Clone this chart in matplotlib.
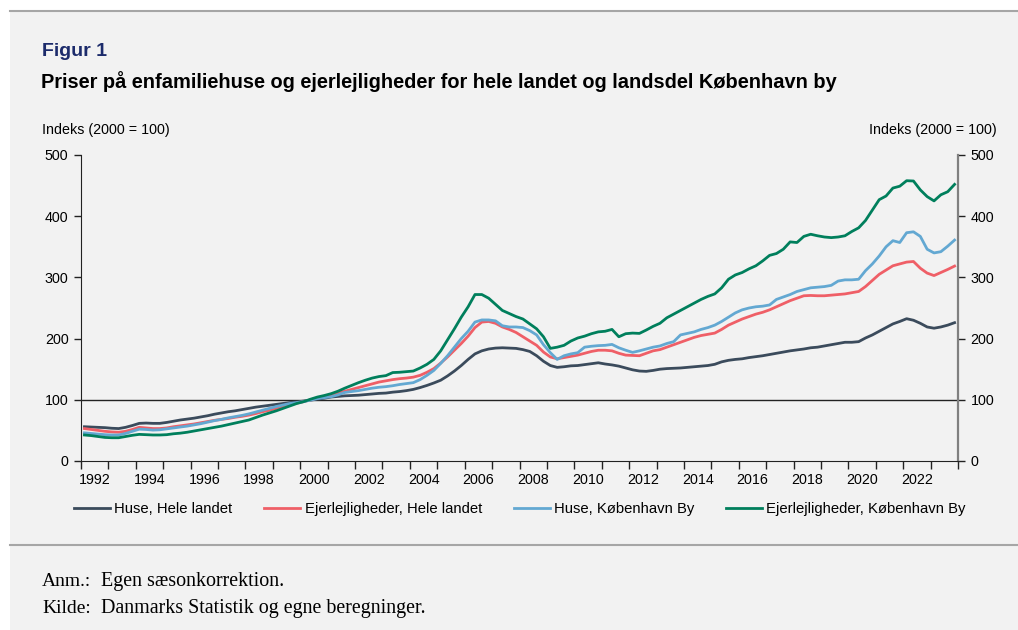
import numpy as np
import matplotlib.pyplot as plt
from matplotlib.patches import Rectangle
from matplotlib.lines import Line2D

# kvartalsdata 1992K1 - 2023K4, indeks 2000 = 100
years = list(range(1992, 2024))

huse_land = [56, 55.5, 55, 54.5, 53.5, 53, 55, 58, 61.5, 62, 61.5, 61.5,
             63, 65, 67, 68.5, 70, 72, 74, 76.5, 78.5, 80.5, 82, 84,
             86, 88, 89.5, 91, 92.5, 94, 95.5, 96.5, 98, 99.5, 101, 102.5,
             104.5, 105.5, 106.5, 107, 107.5, 108.5, 109.5, 110.5, 111, 112.5, 113.5, 115,
             117, 120, 123.5, 127.5, 132, 139, 147, 156, 166, 175, 180, 183,
             184.5, 185, 184.5, 184, 182, 179, 172, 163, 156, 153, 154, 155.5,
             156, 157.5, 159, 160.5, 158.5, 157, 155, 152, 149, 147, 146.5, 148,
             150, 151, 151.5, 152, 153, 154, 155, 156, 158, 162, 164.5, 166,
             167, 169, 170.5, 172, 174, 176, 178, 180, 181.5, 183, 185, 186,
             188, 190, 192, 194, 194, 195, 201, 206, 212, 218, 224, 228,
             232.5, 230, 225, 219, 217, 219, 222, 226]

ejer_land = [53, 51.5, 50, 48.5, 47.5, 47, 48.5, 51.5, 55, 54, 53, 53,
             54, 56, 57.5, 59, 60.5, 62.5, 64.5, 66.5, 68, 69.5, 71.5, 73,
             75, 77.5, 80.5, 83, 86, 89, 92, 94.5, 97, 100, 103, 105.5,
             108, 111, 114, 117, 120, 123, 126, 129, 131, 133, 134.5, 135.5,
             137, 140, 145, 151, 160, 170, 181, 192, 204, 218, 227, 228,
             225, 219, 215, 210, 203, 196, 189, 178, 170, 167, 169, 171,
             173, 176, 179, 181, 181, 180, 176, 173, 172.5, 172, 176, 180,
             182, 186, 190, 194, 198, 202, 205, 207, 209, 215, 222, 227,
             232, 236, 240, 243, 247, 252, 257, 262, 266, 270, 270.5, 270,
             270, 271, 272, 273, 275, 277, 285, 295, 305, 312, 319, 322,
             325, 326, 315, 307, 303, 308, 313, 318.5]

huse_kbh = [46, 45, 44, 43, 42.5, 42.5, 45, 48.5, 52, 51.5, 50.5, 51,
            52.5, 54, 55.5, 57, 59, 61, 63.5, 66, 68, 70.5, 72.5, 74.5,
            77, 80, 83, 86, 89, 91.5, 94, 95.5, 97, 99.5, 102, 103.5,
            105, 108, 112, 113.5, 115, 117, 119, 120.5, 121.5, 123, 125, 126.5,
            128, 133, 140, 148, 159.5, 172, 186, 200, 212, 227, 230.5, 230.5,
            229, 221, 219, 219, 218, 213, 206, 190, 177, 166, 172, 175,
            177, 186, 187.5, 188.5, 189, 190.5, 185, 181, 177.5, 180, 183, 186,
            188, 192, 195, 206, 208.5, 211, 215, 218, 222, 228, 235, 242,
            247, 250, 252, 253, 255, 264, 268, 272, 277, 280, 283, 284,
            285, 287, 294, 296, 296, 297, 311, 322, 335, 350, 360, 357,
            373, 374.5, 367, 346, 340, 342, 351, 361]

ejer_kbh = [42.5, 41.5, 40, 38.5, 38, 38, 40, 42, 43.5, 43, 42.5, 42.5,
            43, 44.5, 45.5, 47, 49, 51, 53, 55, 57, 59.5, 62, 64.5,
            67, 71, 75, 78.5, 82, 86, 90, 94, 97, 101, 104.5, 107,
            110, 114, 119, 123.5, 128, 132, 135.5, 138, 139.5, 144.5, 145, 146,
            147, 152, 158, 166, 180, 198, 216, 235, 252, 272, 272, 266,
            256, 246, 241, 236, 232, 224, 216, 203, 184, 186, 189, 196,
            201, 204, 208, 211, 212, 215, 203, 208, 209, 208.5, 214, 220,
            225, 234, 240, 246, 252, 258, 264, 269, 273, 283, 297, 304,
            308, 314, 319, 327, 336, 339, 346, 358, 357, 367, 370.5, 368,
            366, 365, 366, 368, 375, 381, 393, 410, 427, 433, 446, 449,
            458, 457.5, 443, 432, 425, 435, 440, 452]

labels = ['Huse, Hele landet', 'Ejerlejligheder, Hele landet',
          'Huse, København By', 'Ejerlejligheder, København By']
colors = ['#3b4b5c', '#ef5f67', '#63a8d2', '#007f5c']

W, H = 1018, 630
bg = '#f2f2f2'
plt.rcParams['font.family'] = ['Liberation Sans', 'DejaVu Sans']

fig = plt.figure(figsize=(W / 100, H / 100), dpi=100, facecolor=bg)

def fx(px):
    return px / W

def fy(py):
    return 1 - py / H

# hvid kant foroven og til venstre + grå linjer
fig.patches.append(Rectangle((0, fy(11)), 1, 11 / H, transform=fig.transFigure,
                             facecolor='white', edgecolor='none', zorder=0))
fig.patches.append(Rectangle((0, 0), fx(10), 1, transform=fig.transFigure,
                             facecolor='white', edgecolor='none', zorder=0))
fig.add_artist(Line2D([fx(10), 1], [fy(11), fy(11)], color='#a6a6a6', lw=1.5))
fig.add_artist(Line2D([fx(10), 1], [fy(545), fy(545)], color='#a6a6a6', lw=1.5))

fig.text(fx(42), fy(52), 'Figur 1', fontsize=14, fontweight='bold',
         color='#1c2b6b', va='center')
fig.text(fx(41), fy(82), 'Priser på enfamiliehuse og ejerlejligheder for hele landet og landsdel København by',
         fontsize=14.4, fontweight='bold', color='black', va='center')
fig.text(fx(42), fy(130), 'Indeks (2000 = 100)', fontsize=10.3, va='center')
fig.text(fx(997), fy(130), 'Indeks (2000 = 100)', fontsize=10.3, va='center', ha='right')

ax = fig.add_axes([fx(81), fy(461), fx(958 - 81), (461 - 155) / H])
ax.set_facecolor(bg)

n = len(huse_land)
t = np.array([1992 + (i + 0.5) / 4 for i in range(n)])
for series, c, lab in zip([huse_land, ejer_land, huse_kbh, ejer_kbh], colors, labels):
    ax.plot(t, series, color=c, lw=2.0, label=lab, solid_joinstyle='round')

ax.axhline(100, color='#222222', lw=1.0, zorder=1)

ax.set_xlim(1992, 2024)
ax.set_ylim(0, 500)
ax.set_xticks(years + [2024])
ax.set_xticklabels([])
ax.set_xticks([y + 0.5 for y in years if y % 2 == 0], minor=True)
ax.set_xticklabels([str(y) for y in years if y % 2 == 0], minor=True)
ax.tick_params(axis='x', which='major', length=6, width=1, direction='out', color='#222222')
ax.tick_params(axis='x', which='minor', length=0, pad=9, labelsize=10.3)
ax.set_yticks(range(0, 501, 100))
ax.tick_params(axis='y', length=5, width=1, labelsize=10.3, left=True, right=True,
               labelleft=True, labelright=True, pad=4, color='#222222')

ax.spines['top'].set_visible(False)
ax.spines['left'].set_color('#222222')
ax.spines['bottom'].set_color('#222222')
ax.spines['right'].set_color('#808080')
ax.spines['right'].set_linewidth(1.6)

fig.legend(loc='center', bbox_to_anchor=(fx(520), fy(509)), ncol=4, frameon=False,
           fontsize=10.7, handlelength=2.4, handletextpad=0.3, columnspacing=2.15)

for yy, head, body in [(586, 'Anm.:', 'Egen sæsonkorrektion.'),
                       (613, 'Kilde:', 'Danmarks Statistik og egne beregninger.')]:
    fig.text(fx(42), fy(yy), head, fontsize=14, family='Liberation Serif', va='baseline')
    fig.text(fx(101), fy(yy), body, fontsize=14.4, family='Liberation Serif', va='baseline')

fig.savefig('out.png', dpi=100, facecolor=bg)
